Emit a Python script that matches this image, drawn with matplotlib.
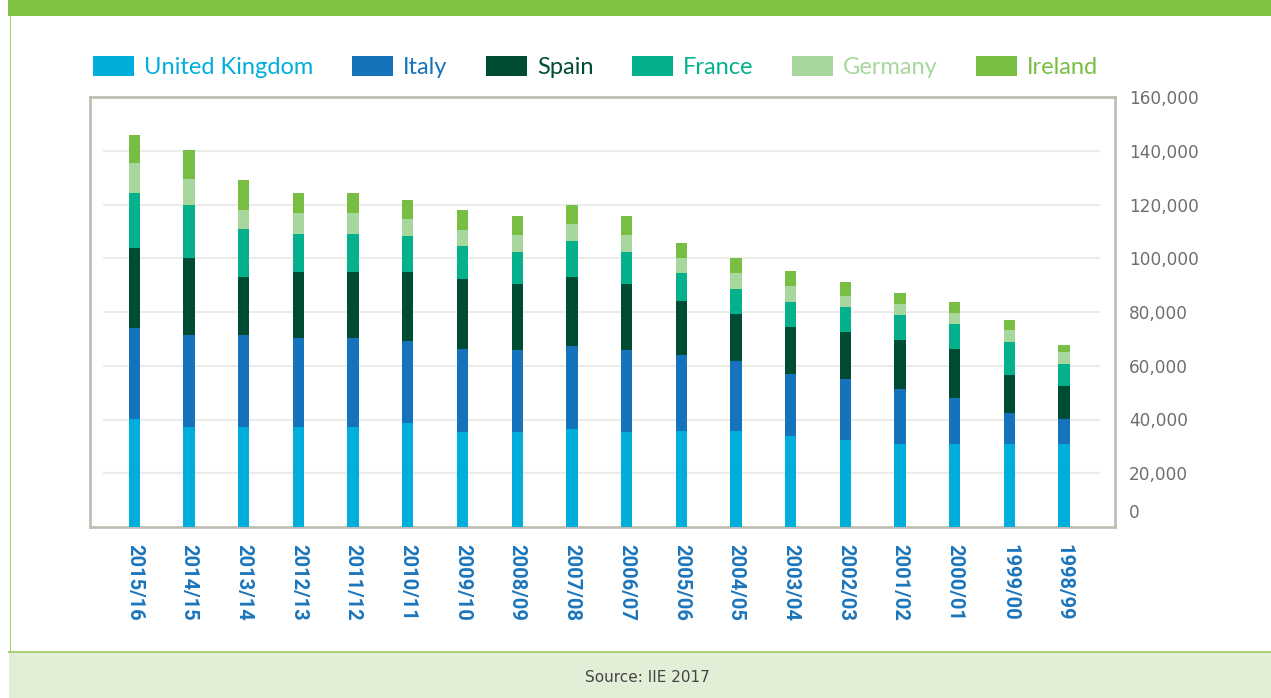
import matplotlib
matplotlib.use('Agg')
import matplotlib.pyplot as plt
import numpy as np
from matplotlib.patches import Patch, Rectangle
from matplotlib.lines import Line2D
from matplotlib.ticker import FuncFormatter

# Academic years (newest first, as in the chart)
years = ['2015/16', '2014/15', '2013/14', '2012/13', '2011/12', '2010/11',
         '2009/10', '2008/09', '2007/08', '2006/07', '2005/06', '2004/05',
         '2003/04', '2002/03', '2001/02', '2000/01', '1999/00', '1998/99']

# Students per destination country (stacked bottom to top)
uk = [40200, 37300, 37300, 37300, 37300, 38800, 35400, 35400, 36400,
      35300, 35700, 35700, 33700, 32300, 30800, 30800, 30800, 30800]
italy = [34000, 34000, 34000, 33000, 33000, 30400, 31000, 30300, 30800,
         30400, 28400, 26200, 23400, 22900, 20400, 17300, 11500, 9400]
spain = [29800, 28700, 21600, 24500, 24500, 25600, 26000, 24600, 25700,
         24600, 20100, 17400, 17300, 17500, 18400, 18300, 14200, 12300]
france = [20400, 20000, 18100, 14400, 14400, 13500, 12000, 12100, 13400,
          12100, 10200, 9400, 9400, 9200, 9200, 9200, 12200, 8300]
germany = [11000, 9500, 6800, 7500, 7500, 6400, 6200, 6400, 6400,
           6400, 5700, 5700, 5700, 4100, 4100, 4200, 4500, 4300]
ireland = [10400, 10700, 11200, 7500, 7500, 7000, 7200, 7000, 7100,
           7000, 5700, 5700, 5600, 5000, 4200, 4100, 3900, 2800]

countries = ['United Kingdom', 'Italy', 'Spain', 'France', 'Germany', 'Ireland']
series = [uk, italy, spain, france, germany, ireland]
colors = ['#00aedb', '#1473ba', '#004b34', '#05b18d', '#a8d79e', '#78be43']

y_ticks = [0, 20000, 40000, 60000, 80000, 100000, 120000, 140000, 160000]

fig = plt.figure(figsize=(12.71, 6.98), dpi=100)
W, H = 1271, 698

# page decoration: green header band, left rule, source footer band
fig.patches.append(Rectangle((8 / W, 1 - 16 / H), 1, 16 / H, transform=fig.transFigure,
                             facecolor='#80c241', edgecolor='none', zorder=0))
fig.patches.append(Rectangle((9 / W, 0), 1, (H - 652) / H, transform=fig.transFigure,
                             facecolor='#e2eed6', edgecolor='none', zorder=0))
fig.lines.append(Line2D([9 / W, 1], [1 - 651.5 / H] * 2, transform=fig.transFigure,
                        color='#a5d175', lw=1.4))
fig.lines.append(Line2D([9.5 / W] * 2, [1 - 16 / H, 1 - 651.5 / H], transform=fig.transFigure,
                        color='#a5d175', lw=0.8))

ax = fig.add_axes([90 / W, 1 - 527 / H, (1115 - 90) / W, (527 - 97) / H])

x = np.arange(len(years))
bottom = np.zeros(len(years))
for name, vals, c in zip(countries, series, colors):
    ax.bar(x, vals, width=0.207, bottom=bottom, color=c, linewidth=0, zorder=3, label=name)
    bottom += np.array(vals)

# gridlines stop short of the box edges
ax.hlines(y_ticks[1:-1], 0.013, 0.985, transform=ax.get_yaxis_transform(),
          color='#ebebe7', lw=1.5, zorder=1)

ax.set_xlim(-0.81, 17.93)
ax.set_ylim(0, 160000)

for s in ax.spines.values():
    s.set_color('#bfbcb1')
    s.set_linewidth(1.9)

ax.yaxis.tick_right()
ax.set_yticks(y_ticks[1:])
ax.yaxis.set_major_formatter(FuncFormatter(lambda v, p: f'{int(v):,}'))
ax.tick_params(axis='y', length=0, pad=10, labelsize=12.2, labelcolor='#6d6e71')
# the zero label sits a little above the baseline in the original
ax.annotate('0', xy=(1, 0), xycoords=ax.get_yaxis_transform(), xytext=(10, 10),
            textcoords='offset points', ha='left', va='center', fontsize=12.2, color='#6d6e71')

ax.set_xticks(x)
ax.set_xticklabels(years, rotation=-90, fontsize=14.5, fontweight='bold',
                   color='#1b75bc', family='Roboto')
ax.tick_params(axis='x', length=0, pad=12)

handles = [Patch(facecolor=c, edgecolor='none') for c in colors]
leg = fig.legend(handles, countries, loc='center left', bbox_to_anchor=(93 / W, 1 - 67 / H),
                 ncol=6, frameon=False, handlelength=1.75, handleheight=0.95,
                 handletextpad=0.42, columnspacing=1.62, borderpad=0, borderaxespad=0,
                 prop={'family': 'Lato', 'weight': 'normal', 'size': 17})
for t, c in zip(leg.get_texts(), colors):
    t.set_color(c)

fig.text(647 / W, 1 - 678 / H, 'Source: IIE 2017', ha='center', va='center',
         fontsize=11, color='#444444')

fig.savefig('out.png', dpi=100)
